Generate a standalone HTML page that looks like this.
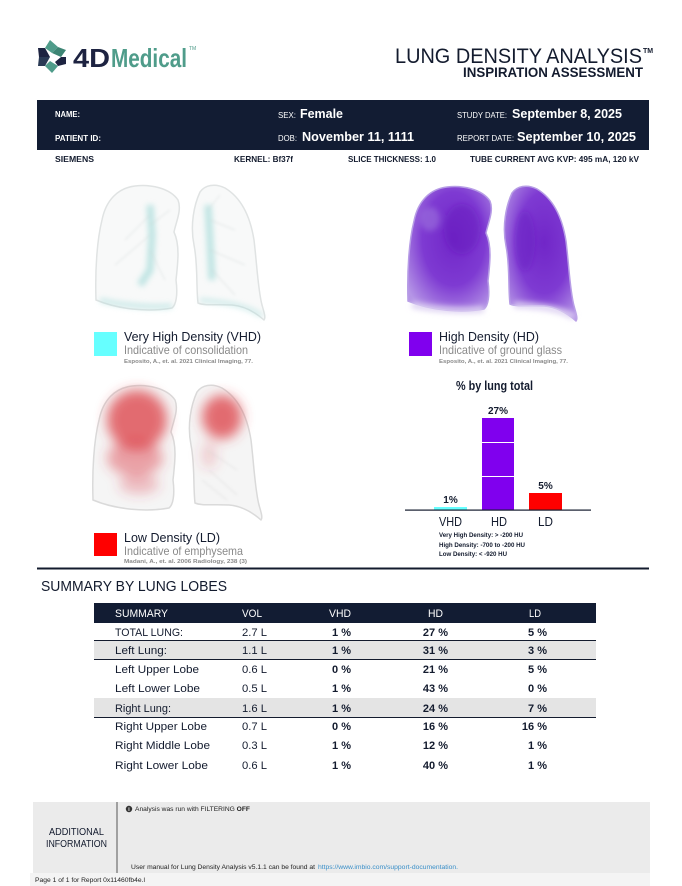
<!DOCTYPE html>
<html><head><meta charset="utf-8"><style>
html,body{margin:0;padding:0;background:#fff;}
svg{display:block;}
text{font-family:"Liberation Sans",sans-serif;}
</style></head><body>
<svg width="682" height="886" viewBox="0 0 682 886" xmlns="http://www.w3.org/2000/svg">
<defs>
<filter id="b1" x="-20%" y="-20%" width="140%" height="140%"><feGaussianBlur stdDeviation="1.2"/></filter>
<filter id="b2" x="-30%" y="-30%" width="160%" height="160%"><feGaussianBlur stdDeviation="3"/></filter>
<filter id="b3" x="-40%" y="-40%" width="180%" height="180%"><feGaussianBlur stdDeviation="6"/></filter>
<radialGradient id="hdg" cx="55%" cy="42%" r="68%">
<stop offset="0" stop-color="#7126c8"/><stop offset="0.55" stop-color="#7e3ad2"/><stop offset="1" stop-color="#b595e6"/>
</radialGradient>
<path id="LL" d="M96 300 C95 270 97 240 102 220 C106 200 118 188 135 186 C150 184 170 188 178 200 C182 210 176 222 174 232 C180 245 178 262 176 280 C178 295 176 305 172 308 C150 312 120 310 96 300 Z"/>
<path id="RL" d="M200 192 C205 185 215 183 225 188 C240 197 250 215 254 240 C257 265 258 290 262 305 C264 312 266 318 264 320 C255 312 245 306 232 305 C215 304 205 306 198 303 C196 285 198 265 194 245 C190 225 194 205 200 192 Z"/>
</defs>
<rect width="682" height="886" fill="#fff"/>

<!-- Logo -->
<g>
<polygon points="50,40 58,47 52,53 45,48" fill="#4f9c8a"/>
<polygon points="58,47 66,50 61,57 52,53" fill="#3d8574"/>
<polygon points="38,48 45,48 50,57 39,57" fill="#1d2341"/>
<polygon points="39,57 50,57 45,66 38,66" fill="#2a3a55"/>
<polygon points="50,61 58,66 52,73 45,66" fill="#4f9c8a"/>
<polygon points="61,57 66,57 66,64 58,66 55,62" fill="#1d2341"/>
<polygon points="48,52 58,57 48,62 51,57" fill="#fff"/>
<text x="73" y="67" font-size="26" font-weight="bold" fill="#1d2341" textLength="37" lengthAdjust="spacingAndGlyphs">4D</text>
<text x="111" y="67" font-size="26" font-weight="bold" fill="#4f9c8a" textLength="76" lengthAdjust="spacingAndGlyphs">Medical</text>
<text x="189" y="50" font-size="5" fill="#4f9c8a">TM</text>
</g>

<!-- Title -->
<text x="395" y="63" font-size="21" fill="#131b2e" textLength="247" lengthAdjust="spacingAndGlyphs">LUNG DENSITY ANALYSIS</text>
<text x="643" y="53" font-size="7" font-weight="bold" fill="#131b2e">TM</text>
<text x="463" y="77" font-size="14" font-weight="bold" fill="#131b2e" textLength="180" lengthAdjust="spacingAndGlyphs">INSPIRATION ASSESSMENT</text>

<!-- Header band -->
<rect x="37" y="100" width="612" height="50" fill="#121c33"/>
<g fill="#fff">
<text x="55" y="117" font-size="8" font-weight="bold" textLength="25" lengthAdjust="spacingAndGlyphs">NAME:</text>
<text x="55" y="141" font-size="8" font-weight="bold" textLength="46" lengthAdjust="spacingAndGlyphs">PATIENT ID:</text>
<text x="278" y="118" font-size="8" textLength="18" lengthAdjust="spacingAndGlyphs">SEX:</text>
<text x="300" y="118" font-size="13" font-weight="bold" textLength="43" lengthAdjust="spacingAndGlyphs">Female</text>
<text x="278" y="141" font-size="8" textLength="19" lengthAdjust="spacingAndGlyphs">DOB:</text>
<text x="302" y="141" font-size="13" font-weight="bold" textLength="112" lengthAdjust="spacingAndGlyphs">November 11, 1111</text>
<text x="457" y="118" font-size="8" textLength="50" lengthAdjust="spacingAndGlyphs">STUDY DATE:</text>
<text x="512" y="118" font-size="13" font-weight="bold" textLength="110" lengthAdjust="spacingAndGlyphs">September 8, 2025</text>
<text x="457" y="141" font-size="8" textLength="57" lengthAdjust="spacingAndGlyphs">REPORT DATE:</text>
<text x="517" y="141" font-size="13" font-weight="bold" textLength="119" lengthAdjust="spacingAndGlyphs">September 10, 2025</text>
</g>
<g fill="#131b2e" font-size="8.5" font-weight="bold">
<text x="55" y="162" textLength="39" lengthAdjust="spacingAndGlyphs">SIEMENS</text>
<text x="234" y="162" textLength="59" lengthAdjust="spacingAndGlyphs">KERNEL: Bf37f</text>
<text x="348" y="162" textLength="88" lengthAdjust="spacingAndGlyphs">SLICE THICKNESS: 1.0</text>
<text x="470" y="162" textLength="169" lengthAdjust="spacingAndGlyphs">TUBE CURRENT AVG KVP: 495 mA, 120 kV</text>
</g>

<!-- VHD lungs -->
<g>
<use href="#LL" fill="#f8f9f9" stroke="#e0e3e3" stroke-width="1.5"/>
<use href="#RL" fill="#f8f9f9" stroke="#e0e3e3" stroke-width="1.5"/>
<g filter="url(#b2)" opacity="0.55">
<path d="M150 205 L152 235 L150 270 L140 285" stroke="#8fd3d0" stroke-width="7" fill="none"/>
<path d="M208 205 L210 240 L212 280" stroke="#8fd3d0" stroke-width="7" fill="none"/>
<path d="M100 300 C120 305 150 308 172 306" stroke="#a6dcda" stroke-width="5" fill="none"/>
<path d="M200 300 C220 302 245 304 262 316" stroke="#a6dcda" stroke-width="4" fill="none"/>
</g>
<g filter="url(#b1)" opacity="0.45" stroke="#cdd3d3" stroke-width="1" fill="none">
<path d="M150 215 L125 240 M150 235 L115 265 M150 250 L165 280 M150 225 L170 210"/>
<path d="M210 220 L235 230 M210 250 L245 265 M212 270 L235 295 M208 210 L220 195"/>
</g>
</g>

<!-- HD lungs -->
<g transform="translate(312,1)">
<use href="#LL" fill="url(#hdg)" stroke="#b79de6" stroke-width="1.5"/>
<use href="#RL" fill="url(#hdg)" stroke="#b79de6" stroke-width="1.5"/>
<g filter="url(#b2)">
<ellipse cx="150" cy="228" rx="18" ry="25" fill="#6418bd" opacity="0.45"/>
<ellipse cx="213" cy="240" rx="10" ry="30" fill="#6418bd" opacity="0.4"/>
<path d="M100 304 C120 308 150 311 172 308" stroke="#ddd0f2" stroke-width="6" fill="none"/>
<path d="M202 304 C220 305 245 306 262 316" stroke="#ddd0f2" stroke-width="6" fill="none"/>
<ellipse cx="118" cy="218" rx="10" ry="12" fill="#a47fe0" opacity="0.5"/>
</g>
</g>

<!-- LD lungs -->
<g transform="translate(-3,200)">
<use href="#LL" fill="#f5f5f5" stroke="#dadada" stroke-width="1.5"/>
<use href="#RL" fill="#f5f5f5" stroke="#dadada" stroke-width="1.5"/>
<g filter="url(#b3)">
<ellipse cx="140" cy="220" rx="30" ry="30" fill="#dc3c44" opacity="0.75"/>
<ellipse cx="138" cy="258" rx="28" ry="18" fill="#dc3c44" opacity="0.45"/>
<ellipse cx="142" cy="284" rx="20" ry="10" fill="#dc3c44" opacity="0.3"/>
<ellipse cx="225" cy="217" rx="20" ry="22" fill="#dc3c44" opacity="0.75"/>
<ellipse cx="212" cy="255" rx="8" ry="14" fill="#dc3c44" opacity="0.2"/>
</g>
<g filter="url(#b1)" opacity="0.5" stroke="#d2d2d2" stroke-width="1" fill="none">
<path d="M210 250 L240 270 M212 270 L240 295 M205 280 L230 300"/>
</g>
</g>

<!-- Legends -->
<rect x="94" y="332" width="23" height="24" fill="#66ffff"/>
<text x="124" y="341" font-size="13" fill="#131b2e" textLength="137" lengthAdjust="spacingAndGlyphs">Very High Density (VHD)</text>
<text x="124" y="354" font-size="12" fill="#8a8a8a" textLength="124" lengthAdjust="spacingAndGlyphs">Indicative of consolidation</text>
<text x="124" y="363" font-size="5.5" font-weight="bold" fill="#8a8a8a" textLength="129" lengthAdjust="spacingAndGlyphs">Esposito, A., et. al. 2021 Clinical Imaging, 77.</text>

<rect x="409" y="332" width="23" height="24" fill="#8000ee"/>
<text x="439" y="341" font-size="13" fill="#131b2e" textLength="100" lengthAdjust="spacingAndGlyphs">High Density (HD)</text>
<text x="439" y="354" font-size="12" fill="#8a8a8a" textLength="123" lengthAdjust="spacingAndGlyphs">Indicative of ground glass</text>
<text x="439" y="363" font-size="5.5" font-weight="bold" fill="#8a8a8a" textLength="129" lengthAdjust="spacingAndGlyphs">Esposito, A., et. al. 2021 Clinical Imaging, 77.</text>

<rect x="94" y="533" width="23" height="23" fill="#ff0000"/>
<text x="124" y="542" font-size="13" fill="#131b2e" textLength="96" lengthAdjust="spacingAndGlyphs">Low Density (LD)</text>
<text x="124" y="555" font-size="12" fill="#8a8a8a" textLength="119" lengthAdjust="spacingAndGlyphs">Indicative of emphysema</text>
<text x="124" y="563" font-size="5.5" font-weight="bold" fill="#8a8a8a" textLength="123" lengthAdjust="spacingAndGlyphs">Madani, A., et. al. 2006 Radiology, 238 (3)</text>

<!-- Chart -->
<text x="456" y="390" font-size="12.5" font-weight="bold" fill="#131b2e" textLength="77" lengthAdjust="spacingAndGlyphs">% by lung total</text>
<rect x="434" y="507" width="33" height="3" fill="#66ffff"/>
<rect x="482" y="418" width="32" height="92" fill="#8000ee"/>
<rect x="482" y="442" width="32" height="1" fill="#fff"/>
<rect x="482" y="476" width="32" height="1" fill="#fff"/>
<rect x="529" y="493" width="33" height="17" fill="#ff0000"/>
<rect x="405" y="509.5" width="186" height="1.2" fill="#131b2e"/>
<g font-size="10" font-weight="bold" fill="#131b2e" text-anchor="middle">
<text x="450.5" y="503">1%</text>
<text x="498" y="414">27%</text>
<text x="545.5" y="489">5%</text>
</g>
<g font-size="12.5" fill="#131b2e">
<text x="439" y="526" textLength="23" lengthAdjust="spacingAndGlyphs">VHD</text>
<text x="491" y="526" textLength="16" lengthAdjust="spacingAndGlyphs">HD</text>
<text x="538" y="526" textLength="15" lengthAdjust="spacingAndGlyphs">LD</text>
</g>
<g font-size="6" font-weight="bold" fill="#131b2e">
<text x="439" y="537" textLength="84" lengthAdjust="spacingAndGlyphs">Very High Density: &gt; -200 HU</text>
<text x="439" y="547" textLength="86" lengthAdjust="spacingAndGlyphs">High Density: -700 to -200 HU</text>
<text x="439" y="556" textLength="68" lengthAdjust="spacingAndGlyphs">Low Density: &lt; -920 HU</text>
</g>

<!-- Separator -->
<rect x="37" y="567.5" width="612" height="2" fill="#131b2e"/>

<!-- Summary -->
<text x="41" y="591" font-size="15" fill="#131b2e" textLength="186" lengthAdjust="spacingAndGlyphs">SUMMARY BY LUNG LOBES</text>

<rect x="94" y="603" width="502" height="20" fill="#121c33"/>
<g fill="#fff" font-size="11">
<text x="115" y="617" textLength="53" lengthAdjust="spacingAndGlyphs">SUMMARY</text>
<text x="242" y="617" textLength="20" lengthAdjust="spacingAndGlyphs">VOL</text>
<text x="329" y="617" textLength="22" lengthAdjust="spacingAndGlyphs">VHD</text>
<text x="428" y="617" textLength="15" lengthAdjust="spacingAndGlyphs">HD</text>
<text x="529" y="617" textLength="12" lengthAdjust="spacingAndGlyphs">LD</text>
</g>
<rect x="94" y="641" width="502" height="18" fill="#e4e4e4"/>
<rect x="94" y="698" width="502" height="19" fill="#e4e4e4"/>
<rect x="94" y="640" width="502" height="1" fill="#131b2e"/>
<rect x="94" y="659" width="502" height="1" fill="#131b2e"/>
<rect x="94" y="717" width="502" height="1" fill="#131b2e"/>

<g fill="#131b2e" font-size="11">
<text x="115" y="636" textLength="68" lengthAdjust="spacingAndGlyphs">TOTAL LUNG:</text>
<text x="115" y="654" textLength="52" lengthAdjust="spacingAndGlyphs">Left Lung:</text>
<text x="115" y="673" textLength="84" lengthAdjust="spacingAndGlyphs">Left Upper Lobe</text>
<text x="115" y="692" textLength="85" lengthAdjust="spacingAndGlyphs">Left Lower Lobe</text>
<text x="115" y="712" textLength="56" lengthAdjust="spacingAndGlyphs">Right Lung:</text>
<text x="115" y="730" textLength="92" lengthAdjust="spacingAndGlyphs">Right Upper Lobe</text>
<text x="115" y="749" textLength="95" lengthAdjust="spacingAndGlyphs">Right Middle Lobe</text>
<text x="115" y="769" textLength="93" lengthAdjust="spacingAndGlyphs">Right Lower Lobe</text>
<text x="242" y="636" textLength="25" lengthAdjust="spacingAndGlyphs">2.7 L</text>
<text x="242" y="654" textLength="25" lengthAdjust="spacingAndGlyphs">1.1 L</text>
<text x="242" y="673" textLength="25" lengthAdjust="spacingAndGlyphs">0.6 L</text>
<text x="242" y="692" textLength="25" lengthAdjust="spacingAndGlyphs">0.5 L</text>
<text x="242" y="712" textLength="25" lengthAdjust="spacingAndGlyphs">1.6 L</text>
<text x="242" y="730" textLength="25" lengthAdjust="spacingAndGlyphs">0.7 L</text>
<text x="242" y="749" textLength="25" lengthAdjust="spacingAndGlyphs">0.3 L</text>
<text x="242" y="769" textLength="25" lengthAdjust="spacingAndGlyphs">0.6 L</text>
</g>
<g fill="#131b2e" font-size="11" font-weight="bold" text-anchor="end">
<text x="351" y="636">1 %</text><text x="448" y="636">27 %</text><text x="547" y="636">5 %</text>
<text x="351" y="654">1 %</text><text x="448" y="654">31 %</text><text x="547" y="654">3 %</text>
<text x="351" y="673">0 %</text><text x="448" y="673">21 %</text><text x="547" y="673">5 %</text>
<text x="351" y="692">1 %</text><text x="448" y="692">43 %</text><text x="547" y="692">0 %</text>
<text x="351" y="712">1 %</text><text x="448" y="712">24 %</text><text x="547" y="712">7 %</text>
<text x="351" y="730">0 %</text><text x="448" y="730">16 %</text><text x="547" y="730">16 %</text>
<text x="351" y="749">1 %</text><text x="448" y="749">12 %</text><text x="547" y="749">1 %</text>
<text x="351" y="769">1 %</text><text x="448" y="769">40 %</text><text x="547" y="769">1 %</text>
</g>

<!-- Footer -->
<rect x="33" y="802" width="617" height="71" fill="#ebebeb"/>
<rect x="30" y="873" width="620" height="13" fill="#f4f4f4"/>
<rect x="116.5" y="802" width="1" height="71" fill="#555"/>
<text x="49" y="835" font-size="10" fill="#131b2e" textLength="55" lengthAdjust="spacingAndGlyphs">ADDITIONAL</text>
<text x="46" y="847" font-size="10" fill="#131b2e" textLength="61" lengthAdjust="spacingAndGlyphs">INFORMATION</text>
<circle cx="129" cy="809" r="3.2" fill="#333"/>
<text x="129" y="811" font-size="5" font-weight="bold" fill="#fff" text-anchor="middle">i</text>
<text x="135" y="811" font-size="6.5" fill="#222" textLength="115" lengthAdjust="spacingAndGlyphs">Analysis was run with FILTERING <tspan font-weight="bold">OFF</tspan></text>
<text x="131" y="869" font-size="6.5" fill="#222" textLength="184" lengthAdjust="spacingAndGlyphs">User manual for Lung Density Analysis v5.1.1 can be found at</text>
<text x="318" y="869" font-size="6.5" fill="#3a8fc8" textLength="140" lengthAdjust="spacingAndGlyphs">https://www.imbio.com/support-documentation.</text>
<text x="35" y="882" font-size="6.5" fill="#222" textLength="110" lengthAdjust="spacingAndGlyphs">Page 1 of 1 for Report 0x11460fb4e.l</text>
</svg>
</body></html>
